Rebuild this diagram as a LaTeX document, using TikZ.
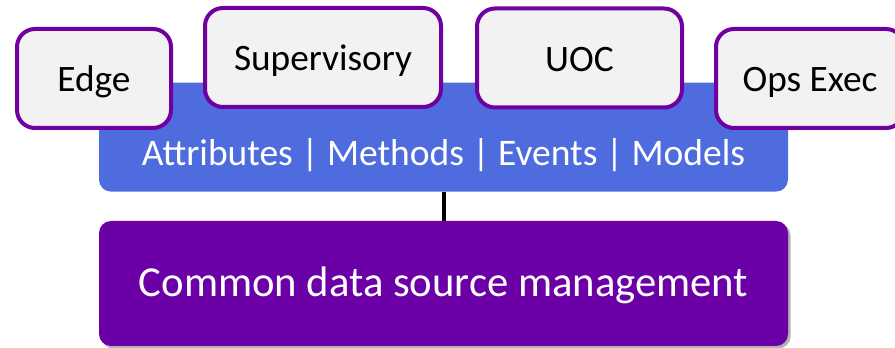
\documentclass[tikz,border=0pt]{standalone}
\usepackage{fontspec}
\setmainfont{Carlito}
\usetikzlibrary{positioning,shadows}
\definecolor{barblue}{RGB}{79,108,222}
\definecolor{dspurple}{RGB}{106,0,166}
\definecolor{modline}{RGB}{112,0,160}
\definecolor{modfill}{RGB}{242,242,242}

\begin{document}
\begin{tikzpicture}[x=1pt,y=1pt,node distance=29pt]
      \useasboundingbox (0,0) rectangle (895,348);
      \clip (0,0) rectangle (895,348);
      \node (CDS) [fill=dspurple, text=white, rounded corners=12pt,
        minimum width=689pt, minimum height=125pt,
        text height=30pt, text depth=3.6pt,
        font=\fontsize{42.7}{48}\selectfont,
        drop shadow={shadow xshift=2.5pt, shadow yshift=-2.5pt, fill=black, opacity=0.3}]
        at (443.5,64.5) {Common data source management};
      \node (API) [above= of CDS, fill=barblue, rounded corners=12pt,
        minimum width=689pt, minimum height=109pt] {};
      \node (APItext) [anchor=base, text=white, font=\fontsize{37.5}{42}\selectfont]
        at ([yshift=26pt]API.south) {Attributes | Methods | Events | Models};
      \begin{scope}[every node/.style={draw=modline, line width=4pt, fill=modfill,
          rounded corners=18pt, minimum height=99pt, text height=28pt, text depth=1pt,
          font=\fontsize{37.3}{42}\selectfont}]
        \node (Edge) [minimum width=154pt] at (94,269.5) {Edge};
        \node (Sup) [minimum width=236pt] at (323,290.5) {Supervisory};
        \node (UOC) [minimum width=205pt] at (579.5,290) {UOC};
        \node (Ops) [minimum width=188pt] at (810,269.5) {Ops Exec};
      \end{scope}
      \draw[line width=4pt] (API) -- (CDS);
    \end{tikzpicture}
\end{document}
